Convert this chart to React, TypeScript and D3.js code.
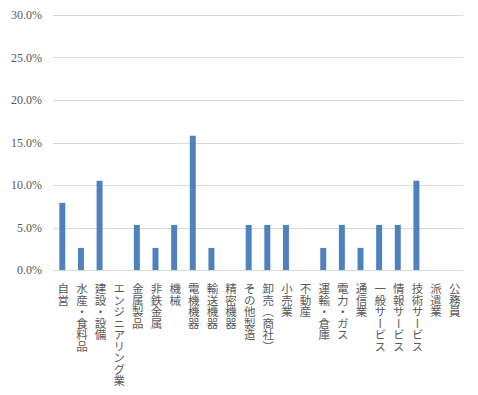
import { useMemo } from 'react';
import * as d3 from 'd3';

// categories (業種) and share of respondents (%)
const CATEGORIES = [
  '自営', '水産・食料品', '建設・設備', 'エンジニアリング業', '金属製品', '非鉄金属',
  '機械', '電機機器', '輸送機器', '精密機器', 'その他製造', '卸売（商社）', '小売業',
  '不動産', '運輸・倉庫', '電力・ガス', '通信業', '一般サービス', '情報サービス',
  '技術サービス', '派遣業', '公務員',
];
const VALUES = [
  7.9, 2.6, 10.5, 0, 5.3, 2.6, 5.3, 15.8, 2.6, 0, 5.3, 5.3, 5.3,
  0, 2.6, 5.3, 2.6, 5.3, 5.3, 10.5, 0, 0,
];
const Y_TICKS = [0, 5, 10, 15, 20, 25, 30];

const W = 478;
const H = 395;
const margin = { top: 15, right: 15, bottom: 125, left: 53 };
const BAR_COLOR = '#4f81bd';
const GRID = '#d9d9d9';
const TEXT = '#595959';
const SERIF = '"Liberation Serif", "Noto Sans CJK JP", serif';

export default function App() {
  const innerW = W - margin.left - margin.right;
  const innerH = H - margin.top - margin.bottom;

  const x = useMemo(() => d3.scaleBand<string>().domain(CATEGORIES).range([0, innerW]).paddingInner(0.68).paddingOuter(0.34), [innerW]);
  const y = useMemo(() => d3.scaleLinear().domain([0, 30]).range([innerH, 0]), [innerH]);
  const data = CATEGORIES.map((c, i) => ({ c, v: VALUES[i] }));

  return (
    <svg width={W} height={H} style={{ display: 'block', position: 'absolute', left: 0, top: 0, background: '#fff' }}>
      <g transform={`translate(${margin.left},${margin.top})`}>
        {/* Gridlines */}
        {Y_TICKS.map(t => (
          <line key={t} x1={0} x2={innerW} y1={Math.round(y(t)) + 0.5} y2={Math.round(y(t)) + 0.5} stroke={GRID} strokeWidth={1} />
        ))}
        {/* Y labels */}
        {Y_TICKS.map(t => (
          <text key={'l' + t} x={-11} y={y(t)} dy="0.35em" textAnchor="end" fontSize={12} fill={TEXT} fontFamily={SERIF}>
            {t.toFixed(1) + '%'}
          </text>
        ))}
        {/* Bars */}
        {data.map(d => (
          <rect key={d.c} x={x(d.c)} y={y(d.v)} width={x.bandwidth()} height={innerH - y(d.v)} fill={BAR_COLOR} />
        ))}
        {/* X labels, vertical */}
        {data.map(d => (
          <text key={'x' + d.c}
            x={(x(d.c) ?? 0) + x.bandwidth() / 2 + 1}
            y={innerH + 13}
            fontSize={11.5} fill={TEXT} fontFamily={'"Noto Sans CJK JP", sans-serif'}
            style={{ writingMode: 'vertical-rl' } as any}>
            {d.c}
          </text>
        ))}
      </g>
    </svg>
  );
}
